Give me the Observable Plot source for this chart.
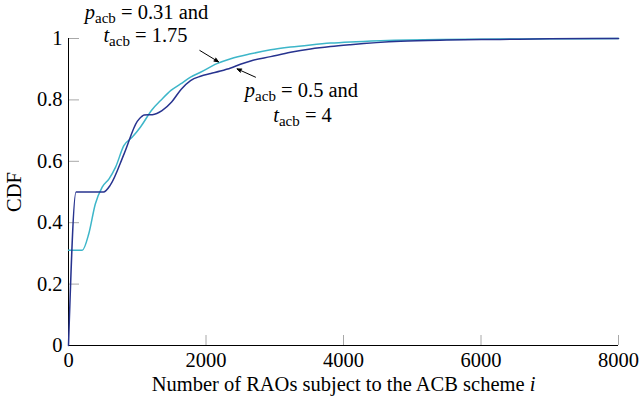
<!DOCTYPE html>
<html>
<head>
<meta charset="utf-8">
<script src="https://cdn.jsdelivr.net/npm/d3@7"></script>
<script src="https://cdn.jsdelivr.net/npm/@observablehq/plot@0.6"></script>
<style>
  html, body { margin: 0; padding: 0; background: #fff; }
  svg { display: block; }
</style>
</head>
<body>
<div id="chart"></div>
<script>
// CDF of the number of RAOs subject to the ACB scheme, for two (p_acb, t_acb) settings.

// p_acb = 0.5, t_acb = 4
const raosB = [0, 110, 510, 610, 810, 1000, 1060, 1100, 1220, 1360, 1500, 1640, 1775, 1920, 2070, 2210, 2360, 2500, 2650, 2940, 3230, 3520, 3810, 4100, 4830, 5500, 6280, 7000, 8000];
const cdfB  = [0, 0.5, 0.5, 0.523, 0.625, 0.73, 0.745, 0.751, 0.752, 0.765, 0.793, 0.835, 0.863, 0.877, 0.886, 0.894, 0.904, 0.916, 0.927, 0.941, 0.955, 0.966, 0.974, 0.98, 0.991, 0.995, 0.997, 0.999, 1.0];

// p_acb = 0.31, t_acb = 1.75
const raosC = [0, 200, 295, 390, 490, 590, 685, 805, 925, 1045, 1215, 1340, 1490, 1630, 1775, 1920, 2160, 2360, 2650, 2940, 3230, 3520, 3810, 4100, 4540, 5410, 6280, 7000, 8000];
const cdfC  = [0.31, 0.31, 0.364, 0.461, 0.516, 0.543, 0.581, 0.651, 0.678, 0.711, 0.768, 0.798, 0.831, 0.852, 0.874, 0.89, 0.918, 0.934, 0.95, 0.963, 0.972, 0.979, 0.985, 0.989, 0.993, 0.997, 0.998, 0.999, 1.0];

const xTicks = [0, 2000, 4000, 6000, 8000];
const yTicks = [0, 0.2, 0.4, 0.6, 0.8, 1];

const xLabel = "Number of RAOs subject to the ACB scheme i";
const yLabel = "CDF";

// Curve annotations (one row per text line) and their pointer arrows
const annoText = ["p_acb = 0.31 and", "t_acb = 1.75", "p_acb = 0.5 and", "t_acb = 4"];
const annoX = [1135, 1120, 3389, 3404];
const annoY = [1.065, 0.987, 0.809, 0.727];

const arrowX1 = [1910, 2720];
const arrowY1 = [0.961, 0.874];
const arrowX2 = [2182, 2453];
const arrowY2 = [0.924, 0.901];

const colorC = "#3db6c9";
const colorB = "#27338f";
const tickGray = "#a8a8a8";
const serif = "Liberation Serif, Times New Roman, Times, serif";
const fs = 20.5;

const rowsB = raosB.map((x, i) => ({x, y: cdfB[i]}));
const rowsC = raosC.map((x, i) => ({x, y: cdfC[i]}));
const annoRows = annoText.map((t, i) => ({t, x: annoX[i], y: annoY[i]}));
const arrowRows = arrowX1.map((x1, i) => ({x1, y1: arrowY1[i], x2: arrowX2[i], y2: arrowY2[i]}));

const plot = Plot.plot({
  width: 641,
  height: 401,
  marginLeft: 68,
  marginRight: 23,
  marginTop: 38,
  marginBottom: 56,
  style: {fontFamily: serif, fontSize: fs + "px", background: "#fff", color: "#000", overflow: "visible"},
  x: {domain: [0, 8000]},
  y: {domain: [0, 1]},
  marks: [
    // inward gray ticks
    Plot.axisX({ticks: xTicks, tickSize: -10, stroke: tickGray, tickFormat: () => "", label: null}),
    Plot.axisY({ticks: yTicks, tickSize: -11, stroke: tickGray, tickFormat: () => "", label: null}),
    // tick labels and axis titles
    Plot.axisX({ticks: xTicks, tickSize: 0, tickPadding: 7, tickFormat: d => String(d),
      fontFamily: serif, fontSize: fs,
      label: xLabel, labelAnchor: "center", labelArrow: "none", labelOffset: 45}),
    Plot.axisY({ticks: yTicks, tickSize: 0, tickPadding: 6, tickFormat: d => String(d),
      fontFamily: serif, fontSize: fs,
      label: yLabel, labelAnchor: "center", labelArrow: "none", labelOffset: 62}),
    // left and bottom axis lines
    Plot.ruleX([0], {stroke: "#000", strokeWidth: 1}),
    Plot.ruleY([0], {stroke: "#000", strokeWidth: 1}),
    Plot.line(rowsC, {x: "x", y: "y", stroke: colorC, strokeWidth: 1.5, curve: "monotone-x"}),
    Plot.line(rowsB, {x: "x", y: "y", stroke: colorB, strokeWidth: 1.5, curve: "monotone-x"}),
    Plot.arrow(arrowRows, {x1: "x1", y1: "y1", x2: "x2", y2: "y2", stroke: "#000", fill: "#000",
      strokeWidth: 1, headLength: 7, headAngle: 45}),
    Plot.text(annoRows, {x: "x", y: "y", text: "t", textAnchor: "middle", lineAnchor: "bottom",
      fontFamily: serif, fontSize: fs, fill: "#000", className: "anno"})
  ]
});

document.getElementById("chart").appendChild(plot);

const NS = "http://www.w3.org/2000/svg";
function tspan(text, attrs) {
  const el = document.createElementNS(NS, "tspan");
  for (const k in attrs) el.setAttribute(k, attrs[k]);
  el.textContent = text;
  return el;
}

// Typeset "v_sub rest" as italic variable with a roman subscript
plot.querySelectorAll("g.anno text").forEach(el => {
  const s = el.textContent;
  const m = s.match(/^(\w)_(\w+)(.*)$/);
  if (!m) return;
  el.textContent = "";
  el.appendChild(tspan(m[1], {"font-style": "italic"}));
  el.appendChild(tspan(m[2], {"font-size": "15px", dy: "4"}));
  el.appendChild(tspan(m[3], {dy: "-4"}));
});

// Italic symbol at the end of the x-axis title
plot.querySelectorAll("g[aria-label='x-axis label'] text").forEach(el => {
  const s = el.textContent;
  if (!s.endsWith(" i")) return;
  el.textContent = "";
  el.appendChild(tspan(s.slice(0, -1), {}));
  el.appendChild(tspan("i", {"font-style": "italic"}));
});
</script>
</body>
</html>
